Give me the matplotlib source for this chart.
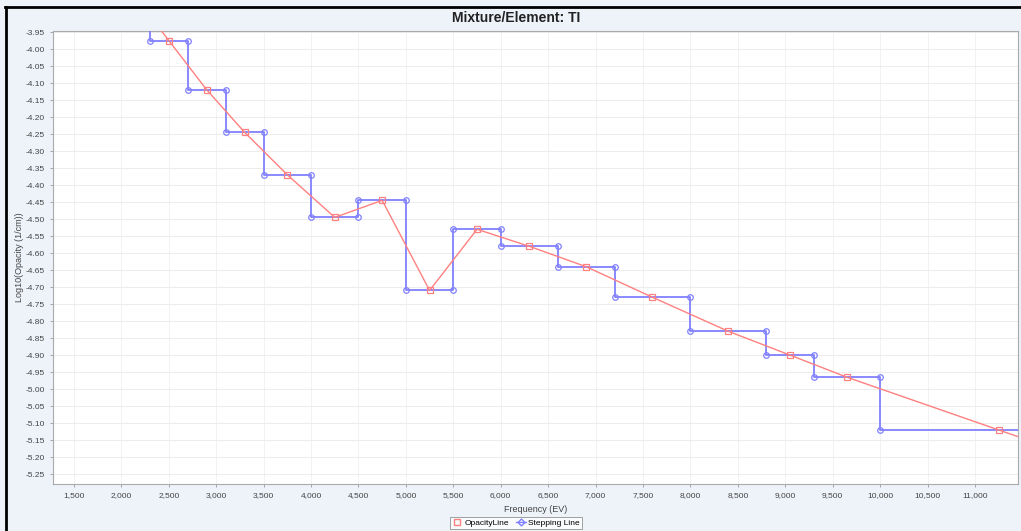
import matplotlib
matplotlib.use("Agg")
import matplotlib.pyplot as plt
from matplotlib.lines import Line2D
from matplotlib.ticker import FuncFormatter, MultipleLocator

plt.rcParams['font.family'] = ['Liberation Sans', 'DejaVu Sans']

# step boundaries of the stepping line (EV) and the level held on each step
step_edges = [1900, 2300, 2700, 3100, 3500, 4000, 4500, 5000, 5500, 6000,
              6600, 7200, 8000, 8800, 9300, 10000, 12500, 13500]
step_levels = [-3.83, -3.975, -4.12, -4.245, -4.37, -4.495, -4.445, -4.71,
               -4.53, -4.58, -4.64, -4.73, -4.83, -4.90, -4.965, -5.12, -5.29]

# opacity line: one point in the middle of each step
opacity_freq = [2100, 2500, 2900, 3300, 3750, 4250, 4750, 5250, 5750, 6300,
                6900, 7600, 8400, 9050, 9650, 11250, 13000]
opacity_vals = step_levels

red = '#ff8080'
blue = '#8080ff'

# build the stepping line corners
step_x, step_y = [], []
for i, lvl in enumerate(step_levels):
    step_x += [step_edges[i], step_edges[i + 1]]
    step_y += [lvl, lvl]

fig = plt.figure(figsize=(10.21, 5.31), dpi=100, facecolor='#eef3fa')
ax = fig.add_axes([53 / 1021, 1 - 484 / 531, (1018 - 53) / 1021, (484 - 31) / 531])
ax.set_facecolor('white')

ax.plot(step_x, step_y, color=blue, linewidth=1.3, marker='o', markersize=4,
        markerfacecolor='none', markeredgecolor=blue, markeredgewidth=0.9, zorder=3)
ax.plot(opacity_freq, opacity_vals, color=red, linewidth=1.0, marker='s', markersize=4,
        markerfacecolor='none', markeredgecolor=red, markeredgewidth=0.9, zorder=4)

ax.set_xlim(1279, 11454)
ax.set_ylim(-5.279, -3.947)
ax.xaxis.set_major_locator(MultipleLocator(500))
ax.yaxis.set_major_locator(MultipleLocator(0.05))
ax.xaxis.set_major_formatter(FuncFormatter(lambda v, p: f"{int(round(v)):,}"))
ax.yaxis.set_major_formatter(FuncFormatter(lambda v, p: f"{v:.2f}"))
ax.tick_params(labelsize=6, length=2, width=0.6, color='#999999', labelcolor='#444444', pad=4)

ax.grid(True, axis='y', color='#ececec', linewidth=0.7)
ax.grid(True, axis='x', color='#f2f2f2', linewidth=0.7)
ax.set_axisbelow(True)
for s in ax.spines.values():
    s.set_color('#aaaaaa')
    s.set_linewidth(0.8)

ax.set_xlabel("Frequency (EV)", fontsize=6.5, color='#444444', labelpad=4)
ax.set_ylabel("Log10(Opacity (1/cm))", fontsize=6.5, color='#444444', labelpad=1)

fig.text(516 / 1021, 1 - 18 / 531, "Mixture/Element: TI", ha='center', va='center',
         fontsize=10, fontweight='bold', color='#222222')

handles = [
    Line2D([], [], color=red, linestyle='none', marker='s', markersize=4,
           markerfacecolor='none', markeredgecolor=red),
    Line2D([], [], color=blue, linewidth=1, marker='D', markersize=3.5,
           markerfacecolor='none', markeredgecolor=blue),
]
leg = fig.legend(handles, ["OpacityLine", "Stepping Line"], loc='center',
                 bbox_to_anchor=(516 / 1021, 1 - 523 / 531), ncol=2, fontsize=6,
                 frameon=True, fancybox=False, edgecolor='#777777', borderpad=0.3,
                 handlelength=1.2, handletextpad=0.3, columnspacing=0.8)
leg.get_frame().set_linewidth(0.6)

# black frame on top and left edges
fig.add_artist(Line2D([5 / 1021, 1], [1 - 7 / 531, 1 - 7 / 531], color='black',
                      linewidth=2, transform=fig.transFigure))
fig.add_artist(Line2D([6 / 1021, 6 / 1021], [0, 1 - 7 / 531], color='black',
                      linewidth=2, transform=fig.transFigure))

fig.savefig("out.png", dpi=100, facecolor=fig.get_facecolor())
